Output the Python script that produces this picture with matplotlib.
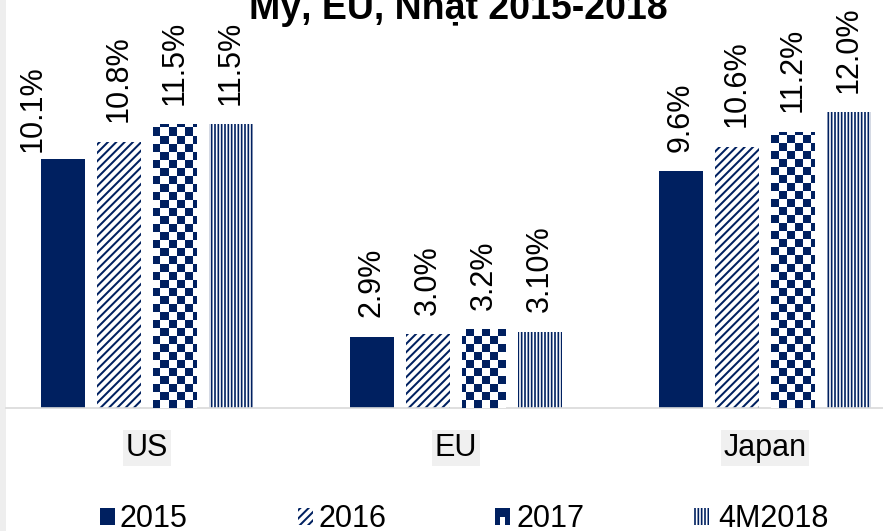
import numpy as np
import matplotlib
matplotlib.use('Agg')
import matplotlib.pyplot as plt
from matplotlib.patches import Rectangle
from matplotlib.colors import ListedColormap

# data
categories = ['US', 'EU', 'Japan']
series_names = ['2015', '2016', '2017', '4M2018']
values_2015 = [10.1, 2.9, 9.6]
values_2016 = [10.8, 3.0, 10.6]
values_2017 = [11.5, 3.2, 11.2]
values_4m2018 = [11.5, 3.1, 12.0]
labels_2015 = ['10.1%', '2.9%', '9.6%']
labels_2016 = ['10.8%', '3.0%', '10.6%']
labels_2017 = ['11.5%', '3.2%', '11.2%']
labels_4m2018 = ['11.5%', '3.10%', '12.0%']
title = 'Mỹ, EU, Nhật 2015-2018'

NAVY = '#002060'
W, H = 883, 531

plt.rcParams['font.family'] = ['Liberation Sans', 'DejaVu Sans']
plt.rcParams['hatch.color'] = NAVY

hatch_lw = {'////': 1.45, '|||||': 1.2}


def set_hatch_lw(patch, lw):
    if hasattr(patch, 'set_hatch_linewidth'):
        patch.set_hatch_linewidth(lw)


fig = plt.figure(figsize=(W / 100, H / 100), dpi=100)
# light grey strip on the left edge
fig.add_artist(Rectangle((0, 0), 6 / W, 1, transform=fig.transFigure,
                         facecolor='#eeeeee', edgecolor='none', zorder=0))

ax = fig.add_axes([0, 123 / H, 1, 408 / H])
ax.patch.set_alpha(0)

x = np.arange(len(categories))
offsets = [-0.272, -0.0906, 0.0906, 0.272]
width = 0.142
xlim = (-0.4757, 2.382)
ylim = (0, 16.55)

all_values = [values_2015, values_2016, values_2017, values_4m2018]
all_labels = [labels_2015, labels_2016, labels_2017, labels_4m2018]
hatches = [None, '////', 'checker', '|||||']

# checkerboard used for the 2017 bars (about 8 px cells)
rows, cols = 51, 110
board = np.indices((rows, cols)).sum(axis=0) % 2
checker_cmap = ListedColormap(['white', NAVY])

# manual nudge for the US 2015 label (moved in the original)
label_nudge = {(0, 0): (-22, 5)}

for s, (vals, labs, hatch) in enumerate(zip(all_values, all_labels, hatches)):
    if hatch is None:
        bars = ax.bar(x + offsets[s], vals, width, color=NAVY, linewidth=0, zorder=2)
    elif hatch == 'checker':
        bars = ax.bar(x + offsets[s], vals, width, color='white', linewidth=0, zorder=2)
        for b in bars:
            im = ax.imshow(board, extent=(xlim[0], xlim[1], ylim[0], ylim[1]),
                           cmap=checker_cmap, interpolation='nearest',
                           aspect='auto', origin='upper', zorder=3)
            im.set_clip_path(b)
    else:
        plt.rcParams['hatch.linewidth'] = hatch_lw[hatch]
        bars = ax.bar(x + offsets[s], vals, width, facecolor='white',
                      edgecolor=NAVY, hatch=hatch, linewidth=0, zorder=2)
        for b in bars:
            set_hatch_lw(b, hatch_lw[hatch])
    for c, (b, lab) in enumerate(zip(bars, labs)):
        dx, dy = label_nudge.get((s, c), (0, 14))
        ax.annotate(lab, (b.get_x() + b.get_width() / 2, b.get_height()),
                    xytext=(dx, dy), textcoords='offset points',
                    rotation=90, ha='center', va='bottom', fontsize=22,
                    zorder=4)

ax.set_xlim(*xlim)
ax.set_ylim(*ylim)
ax.set_xticks(x, categories)
ax.set_yticks([])
ax.tick_params(axis='x', length=0, pad=18, labelsize=22)
for lbl in ax.get_xticklabels():
    lbl.set_bbox(dict(facecolor='#f0f0f0', edgecolor='none', pad=2))
for side in ['top', 'right', 'left']:
    ax.spines[side].set_visible(False)
ax.spines['bottom'].set_color('#d9d9d9')
ax.spines['bottom'].set_linewidth(1.2)
ax.spines['bottom'].set_bounds(xlim[0] + 6 / 309, xlim[1])

# title (top line cut off in the original)
fig.text(458 / W, 1 - 19 / H, title, ha='center', va='baseline',
         fontsize=27, fontweight='bold')

# legend drawn by hand
icon_x = [100, 298, 495, 694]
text_x = [120, 319, 517, 718]
icon_w, icon_h = 15, 17
icon_top = 508
for i, name in enumerate(series_names):
    x0 = icon_x[i] / W
    y0 = 1 - (icon_top + icon_h) / H
    w = icon_w / W
    h = icon_h / H
    if hatches[i] is None:
        fig.add_artist(Rectangle((x0, y0), w, h, transform=fig.transFigure,
                                 facecolor=NAVY, edgecolor='none'))
    elif hatches[i] == 'checker':
        fig.add_artist(Rectangle((x0, y0), w, h, transform=fig.transFigure,
                                 facecolor=NAVY, edgecolor='none'))
        fig.add_artist(Rectangle((x0 + 5 / W, y0), 5 / W, 8 / H,
                                 transform=fig.transFigure,
                                 facecolor='white', edgecolor='none'))
    else:
        plt.rcParams['hatch.linewidth'] = hatch_lw[hatches[i]]
        r = Rectangle((x0, y0), w, h, transform=fig.transFigure,
                      facecolor='white', edgecolor=NAVY,
                      hatch=hatches[i], linewidth=0)
        set_hatch_lw(r, hatch_lw[hatches[i]])
        fig.add_artist(r)
    fig.text(text_x[i] / W, 1 - 527 / H, name, ha='left', va='baseline',
             fontsize=22)

fig.savefig('out.png', dpi=100)
